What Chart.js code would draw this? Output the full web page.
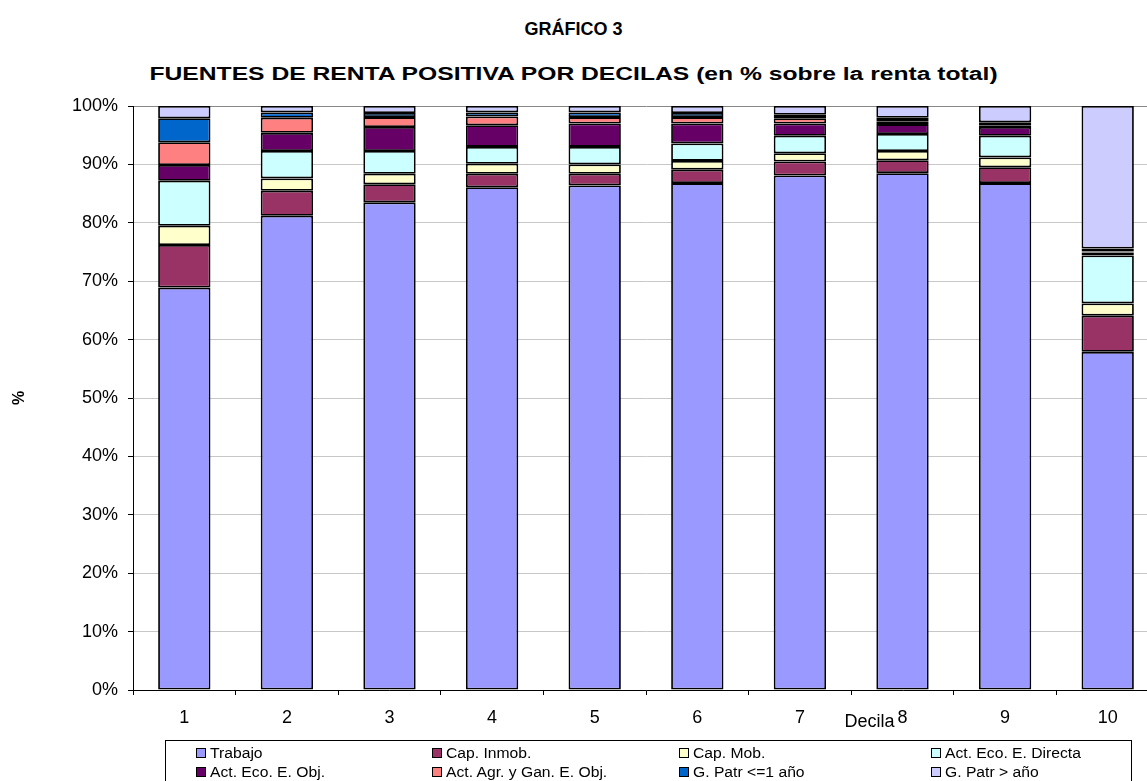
<!DOCTYPE html>
<html>
<head>
<meta charset="utf-8">
<script src="https://cdn.jsdelivr.net/npm/chart.js@4/dist/chart.umd.min.js"></script>
<style>
    html, body { margin: 0; padding: 0; overflow: hidden; background: #fff; }
    body { width: 1147px; height: 781px; position: relative; font-family: "Liberation Sans", Arial, sans-serif; }
    #chart { position: absolute; left: 0; top: 0; }
    .title { position: absolute; left: 0; width: 1147px; text-align: center; font-weight: bold; color: #000; }
    .title span { display: inline-block; }
    #legend { position: absolute; left: 165px; top: 740px; width: 967px; height: 60px; border: 1px solid #000; box-sizing: border-box; }
    .item { position: absolute; font-size: 14px; line-height: 16px; white-space: nowrap; }
    .item span.sw { display: inline-block; width: 8px; height: 8px; border: 1px solid #000; margin-right: 4px; vertical-align: 0px; }
    .item span.tx { display: inline-block; transform: scaleX(1.12); transform-origin: left center; }
</style>
</head>
<body>
<div class="title" style="top:19px;font-size:18px;">GRÁFICO 3</div>
<div class="title" style="top:64px;font-size:18px;"><span style="transform:scaleX(1.37);">FUENTES DE RENTA POSITIVA POR DECILAS (en % sobre la renta total)</span></div>
<canvas id="chart" width="1170" height="781"></canvas>
<div id="legend"></div>
<script>
// Deciles
const decilas = ['1', '2', '3', '4', '5', '6', '7', '8', '9', '10'];

// Share of each income source (% of total positive income)
const trabajo    = [68.9, 81.2, 83.5, 86.1, 86.4, 86.8, 88.1, 88.5, 86.8, 57.9];
const capInmob   = [7.3, 4.3, 3.1, 2.3, 2.0, 2.3, 2.4, 2.2, 2.7, 6.2];
const capMob     = [3.3, 2.1, 1.8, 1.7, 1.6, 1.5, 1.4, 1.6, 1.7, 2.1];
const actDirecta = [7.7, 4.7, 3.9, 2.9, 3.0, 3.0, 3.0, 2.9, 3.7, 8.2];
const actObj     = [2.7, 3.1, 4.1, 3.7, 4.0, 3.4, 2.1, 1.7, 1.5, 0.5];
const actAgr     = [3.9, 2.6, 1.7, 1.5, 1.1, 1.1, 0.9, 0.5, 0.3, 0.2];
const gPatrCorto = [4.1, 0.9, 0.7, 0.7, 0.8, 0.7, 0.6, 0.6, 0.5, 0.5];
const gPatrLargo = [2.1, 1.1, 1.2, 1.1, 1.1, 1.2, 1.5, 2.0, 2.8, 24.4];

const seriesNames = ['Trabajo', 'Cap. Inmob.', 'Cap. Mob.', 'Act. Eco. E. Directa',
    'Act. Eco. E. Obj.', 'Act. Agr. y Gan. E. Obj.', 'G. Patr <=1 año', 'G. Patr > año'];
const seriesData = [trabajo, capInmob, capMob, actDirecta, actObj, actAgr, gPatrCorto, gPatrLargo];
const seriesColors = ['#9999FF', '#993366', '#FFFFCC', '#CCFFFF', '#660066', '#FF8080', '#0066CC', '#CCCCFF'];

const yTicks = [0, 10, 20, 30, 40, 50, 60, 70, 80, 90, 100];

const FONT = '"Liberation Sans", Arial, sans-serif';

// Draw the "Decila" axis caption just left of the label of decile 8
const decilaLabel = {
    id: 'decilaLabel',
    afterDraw(chart) {
        const ctx = chart.ctx;
        const x = chart.scales.x.getPixelForValue(7) - 8;
        ctx.save();
        ctx.font = '18px ' + FONT;
        ctx.fillStyle = '#000';
        ctx.textAlign = 'right';
        ctx.textBaseline = 'middle';
        ctx.fillText('Decila', x, 722);
        ctx.restore();
    }
};

const ctx = document.getElementById('chart').getContext('2d');
new Chart(ctx, {
    type: 'bar',
    data: {
        labels: decilas,
        datasets: seriesNames.map((name, i) => ({
            label: name,
            data: seriesData[i],
            backgroundColor: seriesColors[i],
            borderColor: '#000',
            borderWidth: 1.8,
            borderSkipped: false,
            barPercentage: 0.51,
            categoryPercentage: 1
        }))
    },
    options: {
        responsive: false,
        animation: false,
        devicePixelRatio: 1,
        layout: { padding: { top: 106, left: 0, right: 11, bottom: 51 } },
        plugins: {
            legend: { display: false },
            tooltip: { enabled: false }
        },
        scales: {
            x: {
                stacked: true,
                grid: { drawOnChartArea: false, drawTicks: true, tickLength: 5, color: '#000', offset: true },
                border: { color: '#000', width: 1 },
                ticks: { color: '#000', font: { family: FONT, size: 18 }, padding: 12, maxRotation: 0 },
                afterFit(scale) { scale.height = 40; }
            },
            y: {
                stacked: true,
                min: 0,
                max: 100,
                afterBuildTicks(scale) { scale.ticks = yTicks.map(v => ({ value: v })); },
                grid: {
                    color: c => c.tick && c.tick.value === 100 ? '#888' : '#c8c8c8',
                    lineWidth: 1,
                    tickLength: 5,
                    tickColor: '#000'
                },
                border: { color: '#000', width: 1 },
                ticks: {
                    color: '#000',
                    font: { family: FONT, size: 18 },
                    padding: 10,
                    callback: v => v + '%'
                },
                title: {
                    display: true,
                    text: '%',
                    color: '#000',
                    font: { family: FONT, size: 16, weight: 'bold' },
                    padding: { top: 10, bottom: 0 }
                },
                afterFit(scale) { scale.width = 133; }
            }
        }
    },
    plugins: [decilaLabel]
});

// Legend box, two rows of four entries
const legend = document.getElementById('legend');
const colX = [30, 266, 513, 765];
const rowY = [4, 23];
seriesNames.forEach((name, i) => {
    const el = document.createElement('div');
    el.className = 'item';
    el.style.left = colX[i % 4] + 'px';
    el.style.top = rowY[Math.floor(i / 4)] + 'px';
    el.innerHTML = '<span class="sw" style="background:' + seriesColors[i] + '"></span>' +
        '<span class="tx">' + name.replace('<', '&lt;').replace('>', '&gt;') + '</span>';
    legend.appendChild(el);
});
</script>
</body>
</html>
